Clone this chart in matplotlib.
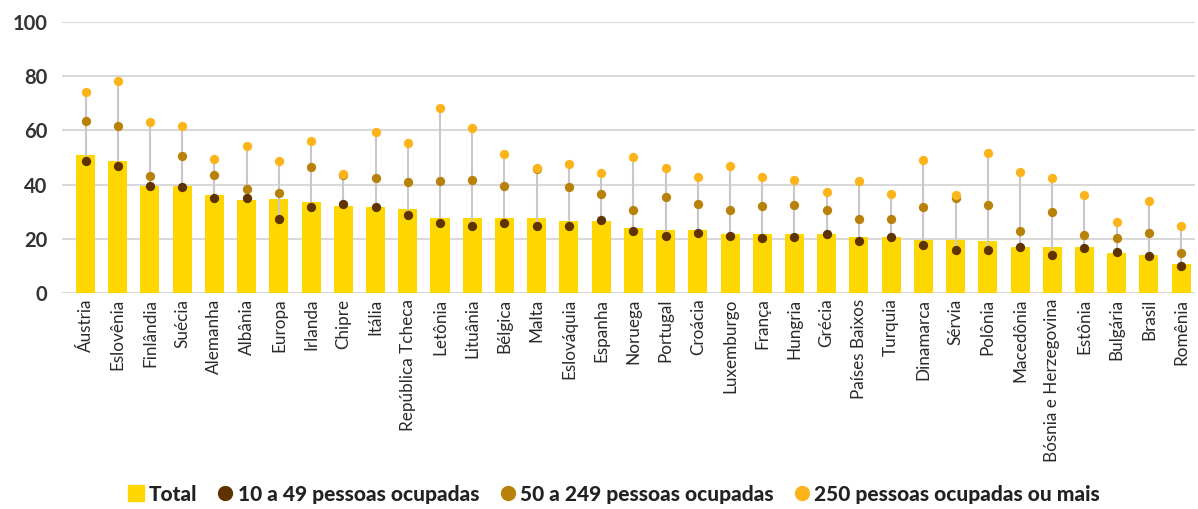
import matplotlib
matplotlib.use("Agg")
import matplotlib.pyplot as plt
from matplotlib.lines import Line2D
import numpy as np

categories = ["Áustria", "Eslovênia", "Finlândia", "Suécia", "Alemanha", "Albânia", "Europa",
              "Irlanda", "Chipre", "Itália", "República Tcheca", "Letônia", "Lituânia", "Bélgica",
              "Malta", "Eslováquia", "Espanha", "Noruega", "Portugal", "Croácia", "Luxemburgo",
              "França", "Hungria", "Grécia", "Países Baixos", "Turquia", "Dinamarca", "Sérvia",
              "Polônia", "Macedônia", "Bósnia e Herzegovina", "Estônia", "Bulgária", "Brasil", "Romênia"]

total = [50.9, 48.8, 39.5, 39.5, 36.2, 34.3, 34.7, 33.6, 32.1, 31.7, 31.0, 27.7, 27.7, 27.7,
         27.7, 26.6, 26.6, 24.0, 23.2, 23.2, 21.8, 21.8, 21.8, 21.8, 20.7, 20.7, 19.6, 19.6,
         19.2, 17.0, 17.0, 17.0, 14.8, 14.0, 10.7]
small = [48.6, 46.7, 39.5, 39.1, 34.9, 34.9, 27.2, 31.9, 32.7, 31.9, 28.9, 25.8, 24.8, 25.7,
         24.8, 24.7, 27.1, 22.9, 21.0, 22.0, 21.2, 20.3, 20.8, 21.9, 19.1, 20.5, 17.7, 15.9,
         15.9, 16.9, 13.9, 16.6, 15.0, 13.8, 10.0]
medium = [63.5, 61.6, 43.1, 50.4, 43.4, 38.4, 36.9, 46.5, 43.4, 42.3, 41.1, 41.2, 41.7, 39.6,
          45.8, 39.2, 36.7, 30.5, 35.5, 33.0, 30.8, 32.0, 32.5, 30.8, 27.3, 27.4, 31.6, 35.1,
          32.6, 23.0, 29.8, 21.4, 20.4, 22.0, 14.8]
large = [74.3, 78.2, 63.1, 61.7, 49.3, 54.4, 48.6, 56.2, 43.8, 59.3, 55.2, 68.2, 60.9, 51.3,
         46.2, 47.5, 44.2, 50.2, 46.1, 42.9, 47.0, 42.7, 41.7, 37.2, 41.4, 36.5, 49.2, 36.0,
         51.5, 44.8, 42.5, 36.2, 26.2, 33.9, 24.6]

legend_labels = ["Total", "10 a 49 pessoas ocupadas", "50 a 249 pessoas ocupadas",
                 "250 pessoas ocupadas ou mais"]

c_bar = "#FFD700"
c_small = "#5E3300"
c_med = "#B8820A"
c_large = "#FBB41A"
c_text = "#333333"

plt.rcParams['font.family'] = ['Lato', 'DejaVu Sans']

fig = plt.figure(figsize=(11.98, 5.09), dpi=100)
ax = fig.add_axes([0.0515, 0.4244, 0.946, 0.5324])

x = np.arange(len(categories))
ax.bar(x, total, width=0.59, color=c_bar, zorder=2)
lo = np.minimum(np.minimum(small, medium), large)
hi = np.maximum(np.maximum(small, medium), large)
ax.vlines(x, lo, hi, color="#c8c8c8", linewidth=1.5, zorder=3)
ax.scatter(x, small, s=45, color=c_small, zorder=4, linewidths=0)
ax.scatter(x, medium, s=45, color=c_med, zorder=5, linewidths=0)
ax.scatter(x, large, s=45, color=c_large, zorder=6, linewidths=0)

ax.set_xlim(-0.74, len(categories) - 1 + 0.43)
ax.set_ylim(0, 100)
ax.set_yticks([0, 20, 40, 60, 80, 100])
ax.yaxis.grid(True, color="#d9d9d9", linewidth=1.5, zorder=0)
ax.set_axisbelow(True)
for s in ax.spines.values():
    s.set_visible(False)
ax.tick_params(axis='both', length=0)
ax.tick_params(axis='y', pad=10.5)
ax.tick_params(axis='x', pad=4)
ax.set_xticks(x)
ax.set_xticklabels(categories, rotation=90, fontsize=12.3, color="#2a2a2a")
for lab in ax.get_yticklabels():
    lab.set_fontsize(14.5)
    lab.set_fontweight('bold')
    lab.set_color(c_text)

handles = [
    Line2D([], [], marker='s', linestyle='none', markersize=11, color=c_bar),
    Line2D([], [], marker='o', linestyle='none', markersize=10, color=c_small),
    Line2D([], [], marker='o', linestyle='none', markersize=10, color=c_med),
    Line2D([], [], marker='o', linestyle='none', markersize=10, color=c_large),
]
fig.legend(handles, legend_labels, loc='center', bbox_to_anchor=(0.513, 0.029), ncol=4,
           frameon=False, handlelength=0.7, handletextpad=0.25, columnspacing=1.0,
           borderpad=0.1, prop={'family': 'Lato', 'weight': 'black', 'size': 15})
for t in fig.legends[0].get_texts():
    t.set_color("#222222")

fig.savefig("out.png", dpi=100)
